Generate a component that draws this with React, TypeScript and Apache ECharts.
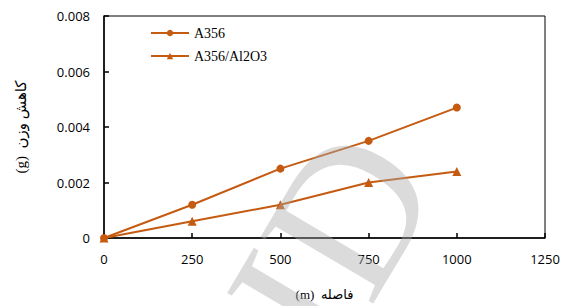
import React, { useEffect, useRef } from "react";
import * as echarts from "echarts";

const distances = [0, 250, 500, 750, 1000];
const a356 = [0, 0.0012, 0.0025, 0.0035, 0.0047];
const a356Al2O3 = [0, 0.0006, 0.0012, 0.002, 0.0024];
const seriesNames = ["A356", "A356/Al2O3"];
const xTitle = "(m)  فاصله";
const yTitle = "(g)  کاهش وزن";

const COLOR = "#c55a11";

export default function App() {
  const ref = useRef<HTMLDivElement>(null);
  useEffect(() => {
    const chart = echarts.init(ref.current!, null, { renderer: "svg" });
    chart.setOption({
      animation: false,
      grid: {
        left: 104,
        right: 23,
        top: 16,
        bottom: 68,
        show: true,
        borderColor: "#000",
        borderWidth: 1,
      },
      legend: {
        left: 145,
        top: 21,
        orient: "vertical",
        itemGap: 9,
        itemWidth: 38,
        itemHeight: 8,
        textStyle: { fontFamily: "Liberation Serif", fontSize: 14, color: "#000" },
        data: seriesNames,
      },
      xAxis: {
        type: "value",
        min: 0,
        max: 1250,
        interval: 250,
        name: xTitle,
        nameLocation: "middle",
        nameGap: 50,
        nameTextStyle: { fontFamily: "Liberation Serif, DejaVu Sans", fontSize: 13, color: "#000" },
        axisLine: { lineStyle: { color: "#000", width: 1.5 } },
        axisTick: { inside: true, length: 5, lineStyle: { color: "#000", width: 1.5 } },
        axisLabel: {
          fontFamily: "Open Sans",
          fontSize: 13,
          color: "#000",
          margin: 14,
          formatter: (v: number) => String(v),
        },
        splitLine: { show: false },
      },
      yAxis: {
        type: "value",
        min: 0,
        max: 0.008,
        interval: 0.002,
        name: yTitle,
        nameLocation: "middle",
        nameRotate: 90,
        nameGap: 76,
        nameTextStyle: { fontFamily: "Liberation Serif, DejaVu Sans", fontSize: 15, color: "#000" },
        axisLine: { lineStyle: { color: "#000", width: 1.5 } },
        axisTick: { inside: true, length: 5, lineStyle: { color: "#000", width: 1.5 } },
        axisLabel: {
          fontFamily: "Open Sans",
          fontSize: 13,
          color: "#000",
          margin: 14,
          formatter: (v: number) => (v === 0 ? "0" : v.toFixed(3)),
        },
        splitLine: { show: false },
      },
      series: [
        {
          name: seriesNames[0],
          type: "line",
          data: distances.map((d, i) => [d, a356[i]]),
          symbol: "circle",
          symbolSize: 8,
          itemStyle: { color: COLOR },
          lineStyle: { color: COLOR, width: 2 },
        },
        {
          name: seriesNames[1],
          type: "line",
          data: distances.map((d, i) => [d, a356Al2O3[i]]),
          symbol: "triangle",
          symbolSize: 9,
          itemStyle: { color: COLOR },
          lineStyle: { color: COLOR, width: 2 },
        },
      ],
      graphic: [
        {
          type: "text",
          x: 298,
          y: 298,
          rotation: Math.PI * 0.33,
          z: 100,
          silent: true,
          style: {
            text: "CID",
            fontFamily: "Liberation Serif",
            fontSize: 200,
            fill: "rgba(170,170,170,0.42)",
            align: "center",
            verticalAlign: "middle",
          },
        },
      ],
    });
    return () => chart.dispose();
  }, []);
  return (
    <div
      ref={ref}
      style={{ position: "absolute", left: 0, top: 0, width: 568, height: 306 }}
    />
  );
}
